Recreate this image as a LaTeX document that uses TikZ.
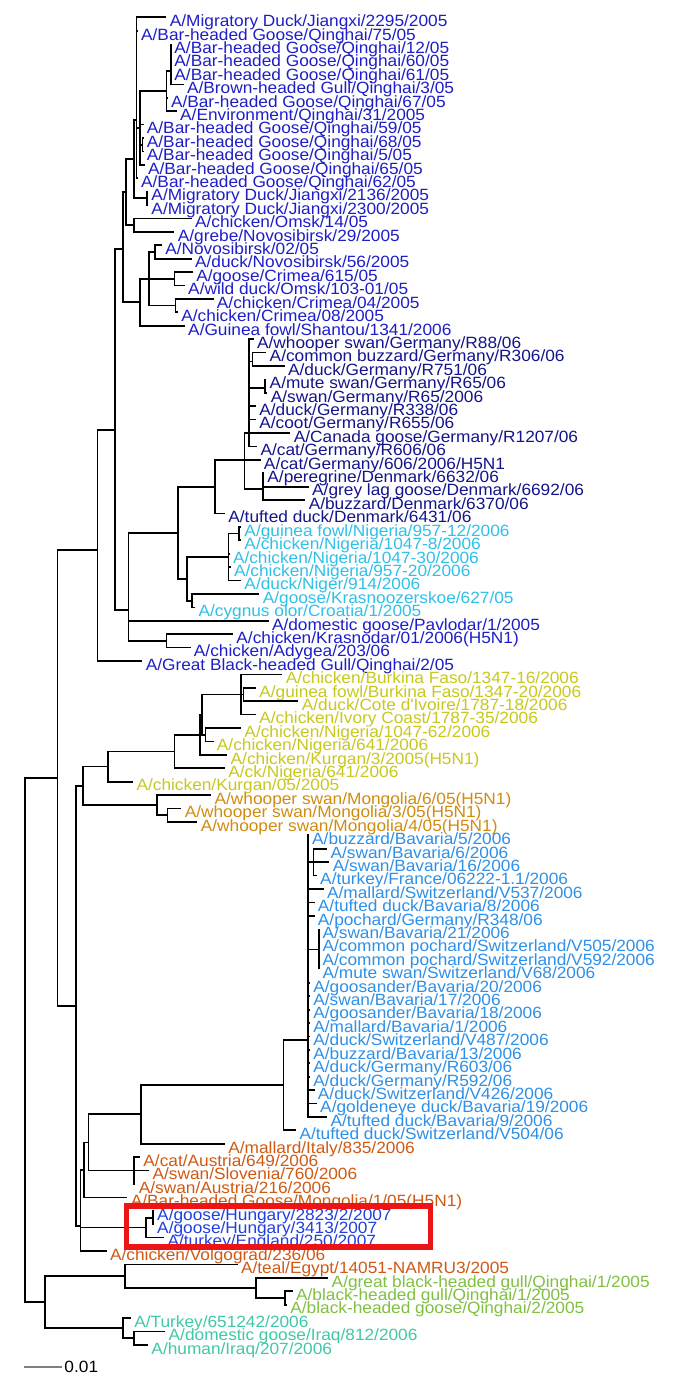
\documentclass[tikz,border=0pt]{standalone}
\usepackage{fontspec}
\newfontfamily\labfont{Liberation Sans}[FakeStretch=1.06]
\definecolor{qb}{RGB}{30,30,200}
\definecolor{navy}{RGB}{20,20,140}
\definecolor{cyn}{RGB}{48,192,232}
\definecolor{olv}{RGB}{200,200,30}
\definecolor{och}{RGB}{208,140,16}
\definecolor{sky}{RGB}{46,144,232}
\definecolor{rst}{RGB}{208,90,20}
\definecolor{hbl}{RGB}{32,64,224}
\definecolor{grn}{RGB}{128,192,64}
\definecolor{tea}{RGB}{64,200,168}
\definecolor{boxred}{RGB}{236,20,20}
\newcommand\lf[4]{%
  \coordinate (L#1) at (#2,{17.3+(#1-1)*13.41});
  \node[lab,text=#3] (T#1) at ([xshift=3.2pt,yshift=-9.3pt]L#1) {#4};}
\begin{document}
\begin{tikzpicture}[x=1.148pt,y=-1pt,
  br/.style={line width=1.7pt,black},
  lab/.style={anchor=base west,inner sep=0pt,text height=9.5pt,text depth=2.5pt,
    font=\labfont\fontsize{16.3}{17}\selectfont}]
\fill[white] (0,0) rectangle (596.69,1393);
\useasboundingbox (0,0) rectangle (596.69,1393);
% ---------------- leaves ----------------
\lf{1}{145}{qb}{A/Migratory Duck/Jiangxi/2295/2005}
\lf{2}{120}{qb}{A/Bar-headed Goose/Qinghai/75/05}
\lf{3}{149}{qb}{A/Bar-headed Goose/Qinghai/12/05}
\lf{4}{149}{qb}{A/Bar-headed Goose/Qinghai/60/05}
\lf{5}{149}{qb}{A/Bar-headed Goose/Qinghai/61/05}
\lf{6}{160}{qb}{A/Brown-headed Gull/Qinghai/3/05}
\lf{7}{146}{qb}{A/Bar-headed Goose/Qinghai/67/05}
\lf{8}{154}{qb}{A/Environment/Qinghai/31/2005}
\lf{9}{125}{qb}{A/Bar-headed Goose/Qinghai/59/05}
\lf{10}{125}{qb}{A/Bar-headed Goose/Qinghai/68/05}
\lf{11}{125}{qb}{A/Bar-headed Goose/Qinghai/5/05}
\lf{12}{126}{qb}{A/Bar-headed Goose/Qinghai/65/05}
\lf{13}{120}{qb}{A/Bar-headed Goose/Qinghai/62/05}
\lf{14}{129}{qb}{A/Migratory Duck/Jiangxi/2136/2005}
\lf{15}{129}{qb}{A/Migratory Duck/Jiangxi/2300/2005}
\lf{16}{167}{qb}{A/chicken/Omsk/14/05}
\lf{17}{152}{qb}{A/grebe/Novosibirsk/29/2005}
\lf{18}{141}{qb}{A/Novosibirsk/02/05}
\lf{19}{167}{qb}{A/duck/Novosibirsk/56/2005}
\lf{20}{168}{qb}{A/goose/Crimea/615/05}
\lf{21}{161}{qb}{A/wild duck/Omsk/103-01/05}
\lf{22}{186}{qb}{A/chicken/Crimea/04/2005}
\lf{23}{155}{qb}{A/chicken/Crimea/08/2005}
\lf{24}{161}{qb}{A/Guinea fowl/Shantou/1341/2006}
\lf{25}{221}{navy}{A/whooper swan/Germany/R88/06}
\lf{26}{232}{navy}{A/common buzzard/Germany/R306/06}
\lf{27}{248}{navy}{A/duck/Germany/R751/06}
\lf{28}{232}{navy}{A/mute swan/Germany/R65/06}
\lf{29}{233}{navy}{A/swan/Germany/R65/2006}
\lf{30}{223}{navy}{A/duck/Germany/R338/06}
\lf{31}{223}{navy}{A/coot/Germany/R655/06}
\lf{32}{253}{navy}{A/Canada goose/Germany/R1207/06}
\lf{33}{224}{navy}{A/cat/Germany/R606/06}
\lf{34}{227}{navy}{A/cat/Germany/606/2006/H5N1}
\lf{35}{230}{navy}{A/peregrine/Denmark/6632/06}
\lf{36}{269}{navy}{A/grey lag goose/Denmark/6692/06}
\lf{37}{266}{navy}{A/buzzard/Denmark/6370/06}
\lf{38}{196}{navy}{A/tufted duck/Denmark/6431/06}
\lf{39}{210}{cyn}{A/guinea fowl/Nigeria/957-12/2006}
\lf{40}{210}{cyn}{A/chicken/Nigeria/1047-8/2006}
\lf{41}{200}{cyn}{A/chicken/Nigeria/1047-30/2006}
\lf{42}{201}{cyn}{A/chicken/Nigeria/957-20/2006}
\lf{43}{210}{cyn}{A/duck/Niger/914/2006}
\lf{44}{226}{cyn}{A/goose/Krasnoozerskoe/627/05}
\lf{45}{170}{cyn}{A/cygnus olor/Croatia/1/2005}
\lf{46}{234}{qb}{A/domestic goose/Pavlodar/1/2005}
\lf{47}{203}{qb}{A/chicken/Krasnodar/01/2006(H5N1)}
\lf{48}{166}{qb}{A/chicken/Adygea/203/06}
\lf{49}{124}{qb}{A/Great Black-headed Gull/Qinghai/2/05}
\lf{50}{246}{olv}{A/chicken/Burkina Faso/1347-16/2006}
\lf{51}{223}{olv}{A/guinea fowl/Burkina Faso/1347-20/2006}
\lf{52}{260}{olv}{A/duck/Cote d'Ivoire/1787-18/2006}
\lf{53}{223}{olv}{A/chicken/Ivory Coast/1787-35/2006}
\lf{54}{210}{olv}{A/chicken/Nigeria/1047-62/2006}
\lf{55}{186}{olv}{A/chicken/Nigeria/641/2006}
\lf{56}{198}{olv}{A/chicken/Kurgan/3/2005(H5N1)}
\lf{57}{196}{olv}{A/ck/Nigeria/641/2006}
\lf{58}{116}{olv}{A/chicken/Kurgan/05/2005}
\lf{59}{184}{och}{A/whooper swan/Mongolia/6/05(H5N1)}
\lf{60}{158}{och}{A/whooper swan/Mongolia/3/05(H5N1)}
\lf{61}{172}{och}{A/whooper swan/Mongolia/4/05(H5N1)}
\lf{62}{269}{sky}{A/buzzard/Bavaria/5/2006}
\lf{63}{285}{sky}{A/swan/Bavaria/6/2006}
\lf{64}{287}{sky}{A/swan/Bavaria/16/2006}
\lf{65}{276}{sky}{A/turkey/France/06222-1.1/2006}
\lf{66}{282}{sky}{A/mallard/Switzerland/V537/2006}
\lf{67}{274}{sky}{A/tufted duck/Bavaria/8/2006}
\lf{68}{274}{sky}{A/pochard/Germany/R348/06}
\lf{69}{278}{sky}{A/swan/Bavaria/21/2006}
\lf{70}{278}{sky}{A/common pochard/Switzerland/V505/2006}
\lf{71}{278}{sky}{A/common pochard/Switzerland/V592/2006}
\lf{72}{278}{sky}{A/mute swan/Switzerland/V68/2006}
\lf{73}{270}{sky}{A/goosander/Bavaria/20/2006}
\lf{74}{270}{sky}{A/swan/Bavaria/17/2006}
\lf{75}{270}{sky}{A/goosander/Bavaria/18/2006}
\lf{76}{270}{sky}{A/mallard/Bavaria/1/2006}
\lf{77}{270}{sky}{A/duck/Switzerland/V487/2006}
\lf{78}{270}{sky}{A/buzzard/Bavaria/13/2006}
\lf{79}{270}{sky}{A/duck/Germany/R603/06}
\lf{80}{270}{sky}{A/duck/Germany/R592/06}
\lf{81}{274}{sky}{A/duck/Switzerland/V426/2006}
\lf{82}{276}{sky}{A/goldeneye duck/Bavaria/19/2006}
\lf{83}{285}{sky}{A/tufted duck/Bavaria/9/2006}
\lf{84}{258}{sky}{A/tufted duck/Switzerland/V504/06}
\lf{85}{196}{rst}{A/mallard/Italy/835/2006}
\lf{86}{122}{rst}{A/cat/Austria/649/2006}
\lf{87}{130}{rst}{A/swan/Slovenia/760/2006}
\lf{88}{118}{rst}{A/swan/Austria/216/2006}
\lf{89}{111}{rst}{A/Bar-headed Goose/Mongolia/1/05(H5N1)}
\lf{90}{134}{hbl}{A/goose/Hungary/2823/2/2007}
\lf{91}{134}{hbl}{A/goose/Hungary/3413/2007}
\lf{92}{143}{hbl}{A/turkey/England/250/2007}
\lf{93}{93}{rst}{A/chicken/Volgograd/236/06}
\lf{94}{207}{rst}{A/teal/Egypt/14051-NAMRU3/2005}
\lf{95}{286}{grn}{A/great black-headed gull/Qinghai/1/2005}
\lf{96}{255}{grn}{A/black-headed gull/Qinghai/1/2005}
\lf{97}{250}{grn}{A/black-headed goose/Qinghai/2/2005}
\lf{98}{114}{tea}{A/Turkey/651242/2006}
\lf{99}{144}{tea}{A/domestic goose/Iraq/812/2006}
\lf{100}{129}{tea}{A/human/Iraq/207/2006}
% ---------------- internal nodes ----------------
\coordinate (n149) at (149,71);
\coordinate (n145) at (145,91);
\coordinate (n124) at (124,144.7);
\coordinate (n122) at (122,128);
\coordinate (nQa) at (119,120);
\coordinate (n128) at (128,198.3);
\coordinate (nQ) at (117,159);
\coordinate (n117o) at (117,225.2);
\coordinate (n110) at (110,192);
\coordinate (n135) at (135,252);
\coordinate (n152) at (152,278.8);
\coordinate (n153) at (153,305.6);
\coordinate (n130) at (130,279);
\coordinate (n122b) at (122,302);
\coordinate (n107) at (107,249);
\coordinate (nGbz) at (220,361.5);
\coordinate (nGsw) at (231,388.3);
\coordinate (nG1) at (217,433);
\coordinate (n229) at (229,488.8);
\coordinate (n213) at (213,460);
\coordinate (n187) at (187,487);
\coordinate (n209) at (208,533.6);
\coordinate (n199) at (199,557);
\coordinate (n167) at (167,600.7);
\coordinate (n163) at (163,579);
\coordinate (n155) at (155,533);
\coordinate (n145k) at (145,641);
\coordinate (n112) at (112,610);
\coordinate (n100) at (100,430);
\coordinate (n85) at (85,550);
\coordinate (n212) at (212,694.5);
\coordinate (n210) at (210,694.5);
\coordinate (n179) at (179,734.8);
\coordinate (n176) at (176,714.6);
\coordinate (n174) at (174,734.8);
\coordinate (n152y) at (152,751.6);
\coordinate (n94) at (94,766.6);
\coordinate (n146) at (146,815.2);
\coordinate (n137) at (137,805);
\coordinate (n72) at (72,786);
\coordinate (nB1) at (273,862.2);
\coordinate (nB2) at (278,949.4);
\coordinate (nBav) at (268,1040);
\coordinate (n247) at (247,1085);
\coordinate (n123) at (123,1114);
\coordinate (n117a) at (117,1170.6);
\coordinate (n77) at (77,1142.5);
\coordinate (n73) at (73,1170);
\coordinate (n133) at (133,1217.8);
\coordinate (n127) at (127,1227.6);
\coordinate (nEU) at (70,1226);
\coordinate (n66) at (66,1006);
\coordinate (n248) at (248,1298);
\coordinate (n223) at (223,1288);
\coordinate (n109) at (109,1276.2);
\coordinate (n117b) at (117,1338.2);
\coordinate (n107b) at (107,1328.2);
\coordinate (n39) at (39,1302.2);
\coordinate (n50) at (50,778);
\coordinate (nR) at (22,1040);
% ---------------- branches ----------------
\begin{scope}[br]
\foreach \c in {L3,L4,L5,L6} \draw (n149) |- (\c);
\foreach \c in {n149,L7,L8} \draw (n145) |- (\c);
\foreach \c in {L10,L11} \draw (n124) |- (\c);
\foreach \c in {n145,L9,n124,L12} \draw (n122) |- (\c);
\foreach \c in {L1,L2,n122,L13} \draw (nQa) |- (\c);
\foreach \c in {L14,L15} \draw (n128) |- (\c);
\foreach \c in {nQa,n128} \draw (nQ) |- (\c);
\foreach \c in {L16,L17} \draw (n117o) |- (\c);
\foreach \c in {nQ,n117o} \draw (n110) |- (\c);
\foreach \c in {L18,L19} \draw (n135) |- (\c);
\foreach \c in {L20,L21} \draw (n152) |- (\c);
\foreach \c in {L22,L23} \draw (n153) |- (\c);
\foreach \c in {n135,n152,n153} \draw (n130) |- (\c);
\foreach \c in {n130,L24} \draw (n122b) |- (\c);
\foreach \c in {n110,n122b} \draw (n107) |- (\c);
\foreach \c in {L26,L27} \draw (nGbz) |- (\c);
\foreach \c in {L28,L29} \draw (nGsw) |- (\c);
\foreach \c in {L25,nGbz,nGsw,L30,L31,L32,L33} \draw (nG1) |- (\c);
\foreach \c in {L35,L36,L37} \draw (n229) |- (\c);
\foreach \c in {nG1,L34,n229} \draw (n213) |- (\c);
\foreach \c in {n213,L38} \draw (n187) |- (\c);
\foreach \c in {L39,L40} \draw (n209) |- (\c);
\foreach \c in {n209,L41,L42,L43} \draw (n199) |- (\c);
\foreach \c in {L44,L45} \draw (n167) |- (\c);
\foreach \c in {n199,n167} \draw (n163) |- (\c);
\foreach \c in {n187,n163} \draw (n155) |- (\c);
\foreach \c in {L47,L48} \draw (n145k) |- (\c);
\foreach \c in {n155,L46,n145k} \draw (n112) |- (\c);
\foreach \c in {n107,n112} \draw (n100) |- (\c);
\foreach \c in {n100,L49} \draw (n85) |- (\c);
\foreach \c in {L51,L52} \draw (n212) |- (\c);
\foreach \c in {L50,n212,L53} \draw (n210) |- (\c);
\foreach \c in {L54,L55} \draw (n179) |- (\c);
\foreach \c in {n210,n179} \draw (n176) |- (\c);
\foreach \c in {n176,L56} \draw (n174) |- (\c);
\foreach \c in {n174,L57} \draw (n152y) |- (\c);
\foreach \c in {n152y,L58} \draw (n94) |- (\c);
\foreach \c in {L60,L61} \draw (n146) |- (\c);
\foreach \c in {L59,n146} \draw (n137) |- (\c);
\foreach \c in {n94,n137} \draw (n72) |- (\c);
\foreach \c in {L63,L64,L65} \draw (nB1) |- (\c);
\foreach \c in {L69,L70,L71,L72} \draw (nB2) |- (\c);
\foreach \c in {L62,nB1,L66,L67,L68,nB2,L73,L74,L75,L76,L77,L78,L79,L80,L81,L82,L83} \draw (nBav) |- (\c);
\foreach \c in {nBav,L84} \draw (n247) |- (\c);
\foreach \c in {n247,L85} \draw (n123) |- (\c);
\foreach \c in {L86,L87,L88} \draw (n117a) |- (\c);
\foreach \c in {n123,n117a} \draw (n77) |- (\c);
\foreach \c in {n77,L89} \draw (n73) |- (\c);
\foreach \c in {L90,L91} \draw (n133) |- (\c);
\foreach \c in {n133,L92} \draw (n127) |- (\c);
\foreach \c in {n73,n127,L93} \draw (nEU) |- (\c);
\foreach \c in {n72,nEU} \draw (n66) |- (\c);
\foreach \c in {L96,L97} \draw (n248) |- (\c);
\foreach \c in {L95,n248} \draw (n223) |- (\c);
\foreach \c in {L94,n223} \draw (n109) |- (\c);
\foreach \c in {L99,L100} \draw (n117b) |- (\c);
\foreach \c in {L98,n117b} \draw (n107b) |- (\c);
\foreach \c in {n109,n107b} \draw (n39) |- (\c);
\foreach \c in {n85,n66} \draw (n50) |- (\c);
\foreach \c in {n50,n39} \draw (nR) |- (\c);
\end{scope}
% ---------------- highlight box ----------------
\draw[boxred,line width=5.5pt] (110,1206) rectangle (375,1247);
% ---------------- scale bar ----------------
\coordinate (sb1) at (21,1367);
\coordinate (sb2) at (54,1367);
\draw[gray,line width=1.5pt] (sb1) -- (sb2);
\node[lab] (sbl) at (56,1372) {0.01};
\end{tikzpicture}
\end{document}
